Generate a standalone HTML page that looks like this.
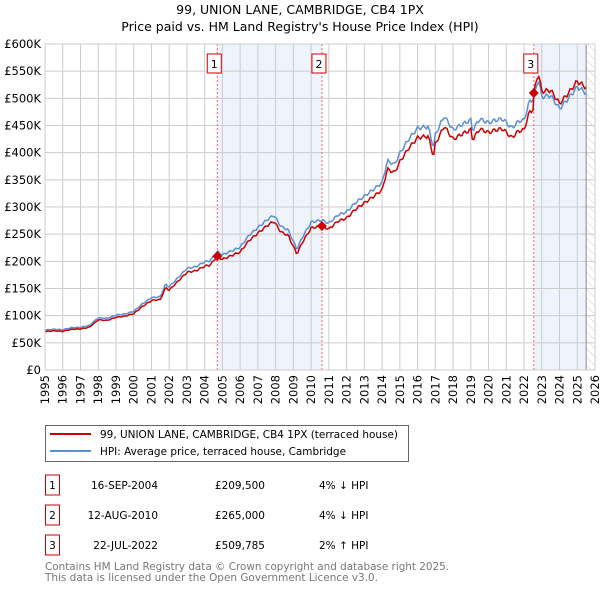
<!DOCTYPE html>
<html><head><meta charset="utf-8"><style>
body{margin:0;background:#fff;font-family:"DejaVu Sans","Liberation Sans",sans-serif;}
svg text{font-family:"DejaVu Sans","Liberation Sans",sans-serif;}
</style></head><body>
<svg id="chart" width="600" height="590" xmlns="http://www.w3.org/2000/svg">
<defs><pattern id="hatch" width="6" height="6" patternUnits="userSpaceOnUse" patternTransform="rotate(-45)"><line x1="0" y1="0" x2="0" y2="6" stroke="#ccc" stroke-width="1"/></pattern></defs>
<text x="300" y="14" text-anchor="middle" font-size="12.5">99, UNION LANE, CAMBRIDGE, CB4 1PX</text>
<text x="300" y="31" text-anchor="middle" font-size="12.5">Price paid vs. HM Land Registry's House Price Index (HPI)</text>
<g id="plot"></g>
<rect x="45.5" y="425.5" width="363" height="36" fill="#fff" stroke="#666"/>
<line x1="50" y1="434" x2="91" y2="434" stroke="#cc0000" stroke-width="2"/>
<text x="100" y="438" font-size="10.5" textLength="298" lengthAdjust="spacingAndGlyphs">99, UNION LANE, CAMBRIDGE, CB4 1PX (terraced house)</text>
<line x1="50" y1="451" x2="91" y2="451" stroke="#5b8fd4" stroke-width="2"/>
<text x="100" y="455" font-size="10.5" textLength="246" lengthAdjust="spacingAndGlyphs">HPI: Average price, terraced house, Cambridge</text>
<g id="table" font-size="10.5"></g>
<text x="45" y="570" font-size="11" fill="#777" textLength="404" lengthAdjust="spacingAndGlyphs">Contains HM Land Registry data © Crown copyright and database right 2025.</text>
<text x="45" y="581" font-size="11" fill="#777" textLength="333" lengthAdjust="spacingAndGlyphs">This data is licensed under the Open Government Licence v3.0.</text>
</svg>
<script>
const years=[];for(let y=1995;y<=2026;y++)years.push(y);
const yTicks=[0,50000,100000,150000,200000,250000,300000,350000,400000,450000,500000,550000,600000];
const yTickLabels=["£0","£50K","£100K","£150K","£200K","£250K","£300K","£350K","£400K","£450K","£500K","£550K","£600K"];
const hpiT=[1995,1995.5,1996,1996.5,1997,1997.5,1998,1998.5,1999,1999.5,2000,2000.5,2001,2001.5,2001.8,2002,2002.5,2003,2003.5,2004,2004.3,2004.71,2005,2005.5,2006,2006.5,2007,2007.5,2007.9,2008.3,2008.7,2009.2,2009.5,2010,2010.6,2011,2011.5,2012,2012.5,2013,2013.5,2014,2014.3,2014.7,2015,2015.5,2016,2016.6,2016.9,2017,2017.5,2018,2018.5,2019,2019.1,2019.5,2020,2020.4,2020.8,2021.3,2021.7,2022,2022.3,2022.55,2022.8,2023,2023.5,2024,2024.5,2025,2025.5];
const hpiV=[73600,75000,74000,78000,78500,82000,96000,95000,101000,103000,108000,122000,133000,135000,158000,153000,170000,187000,190000,199000,201000,218000,212000,219000,226000,248000,262000,276000,285000,264000,258000,222000,244000,272000,276000,270000,285000,291000,308000,320000,332000,345000,385000,378000,399000,425000,445000,448000,408000,433000,467000,442000,452000,460000,441000,462000,455000,460000,462000,445000,458000,460000,494000,500000,537000,503000,505000,481000,500000,521000,510000];
const saleT=[2004.71,2010.61,2022.55];
const saleP=[209500,265000,509785];
const saleLabels=["1","2","3"];
const saleDates=["16-SEP-2004","12-AUG-2010","22-JUL-2022"];
const salePrices=["£209,500","£265,000","£509,785"];
const saleDiff=["4% ↓ HPI","4% ↓ HPI","2% ↑ HPI"];

const NS="http://www.w3.org/2000/svg";
const L=45,R=595,T=44,B=370;
const xs=t=>L+(t-1995)/(2026-1995)*(R-L);
const ys=v=>B-v/600000*(B-T);
function hpiAt(t){for(let i=1;i<hpiT.length;i++){if(t<=hpiT[i]){const f=(t-hpiT[i-1])/(hpiT[i]-hpiT[i-1]);return hpiV[i-1]+f*(hpiV[i]-hpiV[i-1]);}}return hpiV[hpiV.length-1];}
function mk(tag,attrs,parent){const e=document.createElementNS(NS,tag);for(const k in attrs)e.setAttribute(k,attrs[k]);parent.appendChild(e);return e;}
const g=document.getElementById('plot');
let e;
e=mk('rect',{x:xs(saleT[0]),y:T,width:xs(saleT[1])-xs(saleT[0]),height:B-T,fill:'#eef3fc'},g);


e=mk('rect',{x:xs(saleT[2]),y:T,width:xs(2025.5)-xs(saleT[2]),height:B-T,fill:'#eef3fc'},g);


e=mk('rect',{x:xs(2025.5),y:T,width:R-xs(2025.5),height:B-T,fill:'url(#hatch)'},g);


years.forEach(y=>{
  e=mk('line',{x1:xs(y),x2:xs(y),y1:T,y2:B,stroke:'#ccc','stroke-width':1},g);
  
  
  e=mk('text',{x:0,y:0,'font-size':11.5,'text-anchor':'end',transform:`translate(${xs(y)+4},${B+5}) rotate(-90)`},g);
  e.textContent=y;
  
  
});
yTicks.forEach((v,i)=>{
  e=mk('line',{x1:L,x2:R,y1:ys(v),y2:ys(v),stroke:'#ccc','stroke-width':1},g);
  
  
  e=mk('text',{x:L-4,y:ys(v)+4,'font-size':11.5,'text-anchor':'end'},g);
  e.textContent=yTickLabels[i];
  
  
});
e=mk('line',{x1:xs(2025.5),x2:xs(2025.5),y1:T,y2:B,stroke:'#888','stroke-width':1},g);


saleT.forEach((t,i)=>{
  e=mk('line',{x1:xs(t),x2:xs(t),y1:T,y2:B,stroke:'#e66','stroke-width':1,'stroke-dasharray':'2,2'},g);
  
  
  e=mk('rect',{x:xs(t)-10,y:T+10,width:14,height:19,fill:'#fff',stroke:'#cc0000'},g);
  
  
  e=mk('text',{x:xs(t)-3,y:T+24,'font-size':11,'text-anchor':'middle'},g);
  e.textContent=saleLabels[i];
  
  
});
let hp=[],rp=[];
for(let t=1995;t<=2025.5001;t+=1/12){
  const h=hpiAt(t);
  const w=h*(1+0.008*Math.sin(t*19));
  hp.push(`${xs(t).toFixed(1)},${ys(w).toFixed(1)}`);
  let k=0;for(let i=0;i<saleT.length;i++)if(t>=saleT[i])k=i;
  const f=saleP[k]/hpiAt(saleT[k]);
  rp.push(`${xs(t).toFixed(1)},${ys(w*f).toFixed(1)}`);
}
e=mk('polyline',{points:hp.join(' '),fill:'none',stroke:'#5b8fd4','stroke-width':1.5},g);


e=mk('polyline',{points:rp.join(' '),fill:'none',stroke:'#cc0000','stroke-width':1.5},g);


saleT.forEach((t,i)=>{
  const x=xs(t),y=ys(saleP[i]);
  e=mk('polygon',{points:`${x},${y-5} ${x+5},${y} ${x},${y+5} ${x-5},${y}`,fill:'#cc0000'},g);
  
  
});
e=mk('rect',{x:L,y:T,width:R-L,height:B-T,fill:'none',stroke:'#ccc'},g);


const tb=document.getElementById('table');
saleT.forEach((t,i)=>{
  const cy=485+i*30;
  e=mk('rect',{x:45.5,y:cy-10,width:14,height:20,fill:'#fff',stroke:'#cc0000'},tb);
  
  
  e=mk('text',{x:52.5,y:cy+4,'text-anchor':'middle'},tb);e.textContent=saleLabels[i];
  
  
  e=mk('text',{x:158,y:cy+4,'text-anchor':'end'},tb);e.textContent=saleDates[i];
  
  
  e=mk('text',{x:265,y:cy+4,'text-anchor':'end'},tb);e.textContent=salePrices[i];
  
  
  e=mk('text',{x:319,y:cy+4},tb);e.textContent=saleDiff[i];
  
  
});
</script>
</body></html>
